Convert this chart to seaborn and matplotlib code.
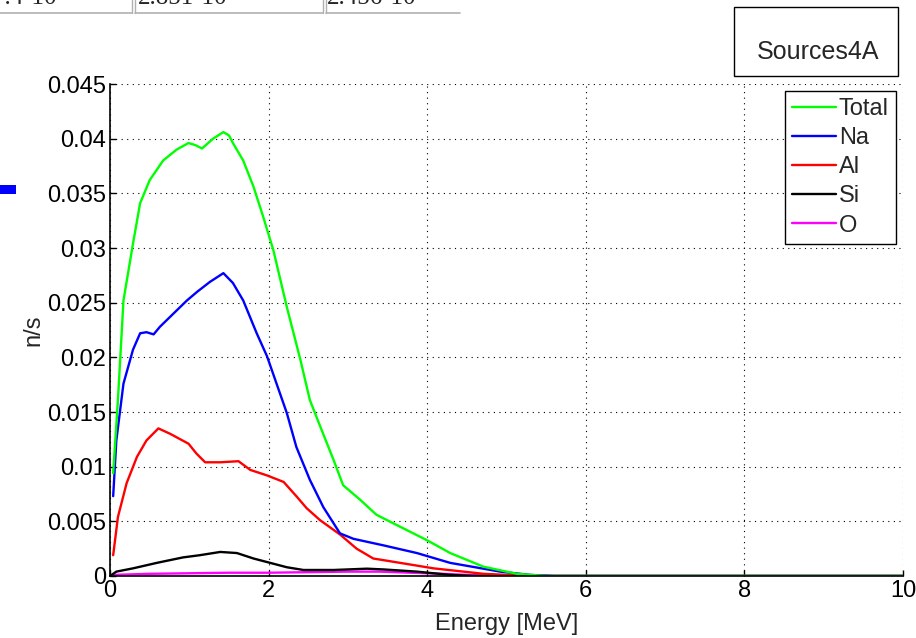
import numpy as np
import matplotlib.pyplot as plt
import pandas as pd
import seaborn as sns
from matplotlib.patches import Rectangle
from matplotlib.lines import Line2D


# neutron source spectra (Sources4A)

# Total
e_total = [0.04, 0.10, 0.17, 0.29, 0.38, 0.50, 0.67, 0.84, 0.99, 1.08, 1.16, 1.30, 1.43, 1.50, 1.55,
           1.68, 1.81, 1.93, 2.06, 2.23, 2.40, 2.52, 2.65, 2.82, 2.94, 3.15, 3.36, 3.66, 3.99, 4.29,
           4.71, 5.13, 5.5, 6.0, 8.0, 10.0]
y_total = [0.0094, 0.0161, 0.0252, 0.0304, 0.0341, 0.0362, 0.0380, 0.0390, 0.0396, 0.0394, 0.0391,
           0.0400, 0.0406, 0.0403, 0.0396, 0.0380, 0.0356, 0.0329, 0.0298, 0.0246, 0.0198, 0.0161,
           0.0137, 0.0106, 0.0083, 0.0070, 0.0056, 0.0045, 0.0033, 0.0021, 0.00085, 0.0002, 0.0,
           0.0, 0.0, 0.0]

# Na
e_na = [0.04, 0.08, 0.17, 0.29, 0.38, 0.46, 0.55, 0.63, 0.80, 0.97, 1.10, 1.26, 1.43, 1.55, 1.68,
        1.85, 1.98, 2.10, 2.23, 2.35, 2.52, 2.69, 2.90, 3.07, 3.45, 3.87, 4.29, 4.92, 5.3, 5.6,
        6.0, 8.0, 10.0]
y_na = [0.0073, 0.0124, 0.0176, 0.0207, 0.0222, 0.0223, 0.0221, 0.0228, 0.0240, 0.0252, 0.0260,
        0.0269, 0.0277, 0.0268, 0.0252, 0.0222, 0.0201, 0.0176, 0.0149, 0.0118, 0.0088, 0.0063,
        0.0039, 0.0034, 0.0028, 0.0021, 0.0012, 0.0004, 0.0001, 0.0, 0.0, 0.0, 0.0]

# Al
e_al = [0.04, 0.10, 0.21, 0.34, 0.46, 0.61, 0.76, 0.99, 1.09, 1.20, 1.39, 1.62, 1.77, 1.98, 2.19,
        2.35, 2.48, 2.65, 2.90, 3.11, 3.32, 3.66, 4.08, 4.71, 5.3, 5.6, 6.0, 8.0, 10.0]
y_al = [0.0019, 0.0054, 0.0085, 0.0109, 0.0124, 0.0135, 0.0130, 0.0121, 0.0112, 0.0104, 0.0104,
        0.0105, 0.0097, 0.0092, 0.0086, 0.0073, 0.0062, 0.0051, 0.0038, 0.0025, 0.0016, 0.0012,
        0.0007, 0.0002, 0.0, 0.0, 0.0, 0.0, 0.0]

# Si
e_si = [0.02, 0.08, 0.29, 0.59, 0.92, 1.13, 1.39, 1.60, 1.81, 2.02, 2.23, 2.44, 2.82, 3.24, 3.45,
        3.87, 4.29, 4.6, 5.0, 6.0, 8.0, 10.0]
y_si = [0.0001, 0.0004, 0.0007, 0.0012, 0.0017, 0.0019, 0.0022, 0.0021, 0.0016, 0.0012, 0.0008,
        0.00055, 0.00055, 0.00067, 0.0006, 0.0004, 0.0001, 0.0, 0.0, 0.0, 0.0, 0.0]

# O
e_o = [0.04, 0.5, 1.0, 1.5, 2.0, 2.5, 3.0, 3.4, 3.8, 4.2, 4.5, 5.0, 6.0, 8.0, 10.0]
y_o = [0.0001, 0.0002, 0.00025, 0.0003, 0.0003, 0.00035, 0.0004, 0.0004, 0.0003, 0.0002, 0.0001,
       0.0, 0.0, 0.0, 0.0]

labels = ["Total", "Na", "Al", "Si", "O"]
colors = ["#00ff00", "#0000ff", "#ff0000", "#000000", "#ff00ff"]
series = [(e_total, y_total), (e_na, y_na), (e_al, y_al), (e_si, y_si), (e_o, y_o)]

# table fragment from the page above the figure
cell_texts = ["7.4\u00b710", "2.851\u00b710", "2.456\u00b710"]
box_title = "Sources4A"


sns.set_style("ticks")
plt.rcParams["font.family"] = ["Liberation Sans", "DejaVu Sans"]

fig = plt.figure(figsize=(9.16, 6.38), dpi=100)
ax = fig.add_axes([110 / 916, 1 - 576 / 638, 793 / 916, 492 / 638])

# plot back to front so Total ends up on top
for (e, y), lab, col in reversed(list(zip(series, labels, colors))):
    df = pd.DataFrame({"Energy": e, "n/s": y})
    sns.lineplot(data=df, x="Energy", y="n/s", color=col, linewidth=1.7, ax=ax, label=lab)

ax.set_xlim(0, 10)
ax.set_ylim(0, 0.045)
ax.set_xticks([0, 2, 4, 6, 8, 10])
ax.set_yticks(np.arange(0, 0.0451, 0.005))
ax.set_yticklabels(["0", "0.005", "0.01", "0.015", "0.02", "0.025", "0.03", "0.035", "0.04", "0.045"])
ax.tick_params(direction="in", length=4, width=1, labelsize=17, colors="black", pad=3)
ax.grid(True, linestyle=(0, (1, 4)), color="black", linewidth=0.8)
for s in ["top", "right"]:
    ax.spines[s].set_visible(False)
for s in ["left", "bottom"]:
    ax.spines[s].set_color("black")
    ax.spines[s].set_linewidth(1.2)
ax.set_xlabel("Energy [MeV]", fontsize=17, labelpad=8)
ax.set_ylabel("n/s", fontsize=17, labelpad=2)

handles = [Line2D([], [], color=c, linewidth=1.7) for c in colors]
leg = ax.legend(handles, labels, loc="upper right", fontsize=17, frameon=True, fancybox=False,
                framealpha=1, edgecolor="black", handlelength=1.9, handletextpad=0.1,
                labelspacing=0.3, borderpad=0.3, borderaxespad=0.3)
leg.get_frame().set_linewidth(1.0)

# "Sources4A" annotation box
fig.patches.append(Rectangle((734 / 916, 1 - 76 / 638), 164 / 916, 69 / 638, transform=fig.transFigure,
                             fill=False, edgecolor="black", linewidth=1.0))
fig.text(818 / 916, 1 - 52 / 638, box_title, ha="center", va="center", fontsize=18)

# stray blue marker at the left edge
fig.patches.append(Rectangle((0, 1 - 194 / 638), 16 / 916, 9 / 638, transform=fig.transFigure,
                             facecolor="#0000ff", edgecolor="none"))

# cut-off html table at the very top
for x0, x1 in [(0, 132), (135, 323), (326, 460)]:
    fig.add_artist(Line2D([x0 / 916, x1 / 916], [1 - 13 / 638] * 2, color="#b0b0b0", linewidth=1.2,
                          transform=fig.transFigure))
for x in [132, 135, 323, 326]:
    fig.add_artist(Line2D([x / 916] * 2, [1 - 13 / 638, 1.0], color="#b0b0b0", linewidth=1.0,
                          transform=fig.transFigure))
for x, t in zip([-8, 138, 327], cell_texts):
    fig.text(x / 916, 1 - 3.5 / 638, t, ha="left", va="baseline", fontsize=18,
             family=["Liberation Serif", "DejaVu Serif"])

fig.savefig("out.png", dpi=100)
